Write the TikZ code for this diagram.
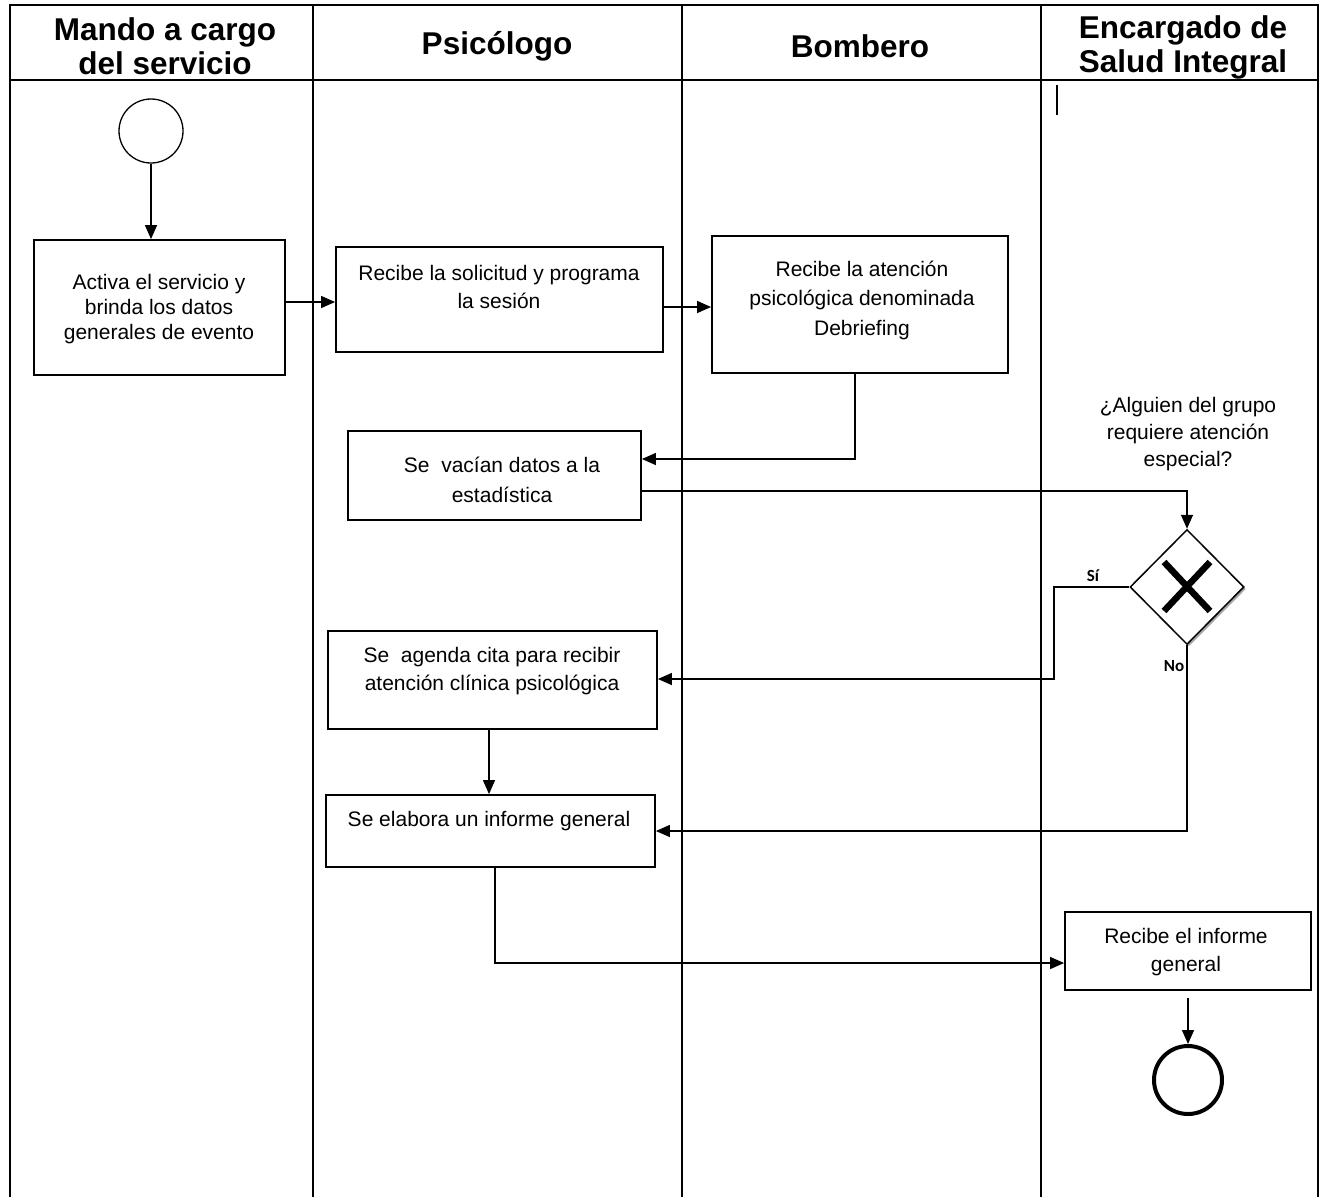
\documentclass[tikz,border=0pt]{standalone}
\usepackage{fontspec}
\setmainfont{Liberation Sans}
\newfontfamily\lblfont{Carlito}
\usetikzlibrary{arrows.meta,shapes.geometric,shadows,calc}
\begin{document}
\begin{tikzpicture}[x=1pt,y=-1pt,
  box/.style={draw, line width=1.8pt, fill=white, inner sep=0pt},
  txt/.style={align=center, font=\fontsize{21}{#1}\selectfont, inner sep=0pt},
  txt/.default=25,
  head/.style={align=center, font=\fontsize{31.5}{34}\selectfont\bfseries, inner sep=0pt},
  lbl/.style={font=\lblfont\bfseries\fontsize{17}{18}\selectfont, inner sep=0pt},
  arr/.style={line width=1.3pt, -{Triangle[length=14pt,width=12pt]}},
  lane/.style={line width=1.5pt},
]
\useasboundingbox (0,0) rectangle (1324,1197);
% frame and lanes
\draw[lane] (10,1197) -- (10,5) -- (1318,5) -- (1318,1197);
\draw[line width=2.5pt] (10,80) -- (1318,80);
\draw[lane] (313,5) -- (313,1197);
\draw[lane] (682,5) -- (682,1197);
\draw[lane] (1041,5) -- (1041,1197);
\draw[line width=1.5pt] (1057,85) -- (1057,115);
% headers
\node[head] (h1) at (165,46) {Mando a cargo\\del servicio};
\node[head] (h2) at (497,46) {Psicólogo};
\node[head] (h3) at (860,46) {Bombero};
\node[head] (h4) at (1183,47) {Encargado de\\Salud Integral};
% nodes
\node[draw, circle, line width=1.3pt, minimum size=64pt, inner sep=0pt] (S) at (151,131) {};
\node[box, minimum width=251pt, minimum height=135pt] (A) at (159.5,307.5) {};
\node[txt] (At) at (159,309) {Activa el servicio y\\brinda los datos\\generales de evento};
\node[box, minimum width=327pt, minimum height=105pt] (B) at (499.5,299.5) {};
\node[txt=28] (Bt) at (499,287) {Recibe la solicitud y programa\\la sesión};
\node[box, minimum width=296pt, minimum height=137pt] (C) at (860,304.5) {};
\node[txt=29.5] (Ct) at (862,300) {Recibe la atención\\psicológica denominada\\Debriefing};
\node[box, minimum width=293pt, minimum height=89pt] (D) at (494.5,475.5) {};
\node[txt=30] (Dt) at (502,480) {Se\ \ vacían datos a la\\estadística};
\node[box, minimum width=329pt, minimum height=98pt] (E) at (492.5,680) {};
\node[txt=28] (Et) at (492,671) {Se\ \ agenda cita para recibir\\atención clínica psicológica};
\node[box, minimum width=329pt, minimum height=72pt] (F) at (490.5,831) {};
\node[txt] (Ft) at (489,821) {Se elabora un informe general};
\node[box, minimum width=246pt, minimum height=78pt] (H) at (1188,951) {};
\node[txt=28] (Ht) at (1186,952) {Recibe el informe\\general};
\node[draw, diamond, line width=1.5pt, fill=white, minimum width=114pt, minimum height=115pt, inner sep=0pt,
  drop shadow={shadow xshift=2pt, shadow yshift=-2pt, fill=gray!70, opacity=1}] (G) at (1187,587) {};
\draw[line width=6.5pt] ($(G.center)+(-23,-25)$) -- ($(G.center)+(23,24)$);
\draw[line width=6.5pt] ($(G.center)+(23,-25)$) -- ($(G.center)+(-23,24)$);
\node[txt=27] (Q) at (1188,434) {¿Alguien del grupo\\requiere atención\\especial?};
\node[draw, circle, line width=4pt, minimum size=68pt, inner sep=0pt] (End) at (1188,1080) {};
% connectors
\draw[arr] (S.south) -- (S.south |- A.north);
\draw[arr] (A.east |- 0,302) -- (B.west |- 0,302);
\draw[arr] (B.east |- 0,307) -- (C.west |- 0,307);
\draw[arr] (C.south -| 855,0) |- (D.east |- 0,459);
\draw[arr] (D.east |- 0,491) -| (G.north);
\coordinate (si) at (1054,587);
\draw[arr] (G.west) -- (si) |- (E.east |- 0,679);
\node[lbl] (siL) at (1093,576) {Sí};
\draw[arr] (G.south) |- (F.east |- 0,831);
\node[lbl] (noL) at (1174,666) {No};
\draw[arr] (E.south -| 489,0) -- (F.north -| 489,0);
\draw[arr] (F.south -| 495,0) |- (H.west |- 0,963);
\draw[arr, shorten <=7pt] (H.south -| End.north) -- (End.north);
\end{tikzpicture}
\end{document}
